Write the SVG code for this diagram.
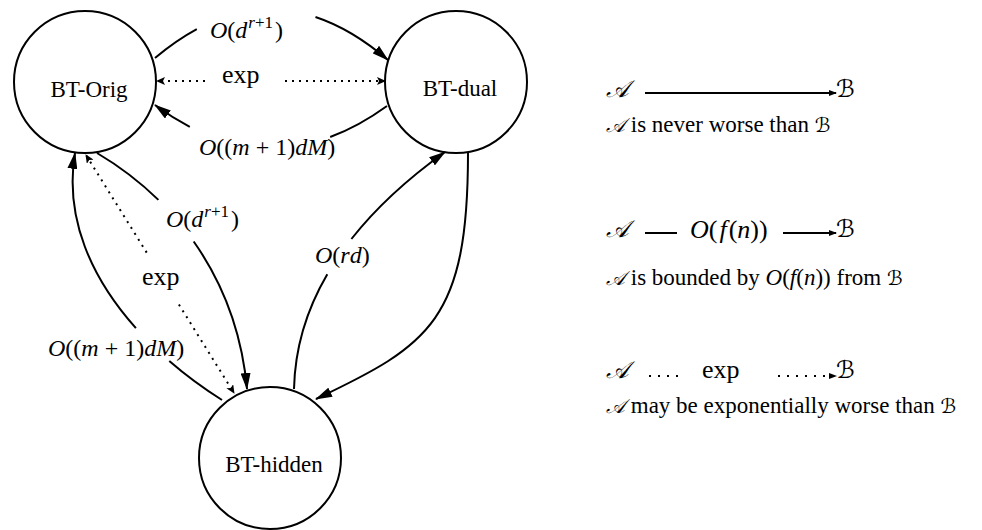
<svg xmlns="http://www.w3.org/2000/svg" width="982" height="530" viewBox="0 0 982 530">
<style>
  .node circle { fill: none; stroke: #000; stroke-width: 2; }
  .name { font-family: "Liberation Serif", "Times New Roman", "DejaVu Serif", serif; font-size: 23px; fill: #000; text-anchor: middle; }
  .edge { fill: none; stroke: #000; stroke-width: 2; }
  .dot { stroke-dasharray: 2 5; }
  .ldot { stroke-dasharray: 2 7; }
  .math { font-family: "Liberation Serif", "Times New Roman", "DejaVu Serif", serif; font-size: 24px; fill: #000; }
  .big { font-size: 26px; }
  .i { font-style: italic; }
  .sup { font-size: 17px; }
  .cal { font-family: "DejaVu Serif", "DejaVu Sans", "Liberation Serif", serif; font-style: italic; font-size: 24px; fill: #000; }
  .cap { font-family: "Liberation Serif", "Times New Roman", "DejaVu Serif", serif; font-size: 23px; fill: #000; }
  .capcal { font-family: "DejaVu Serif", "DejaVu Sans", "Liberation Serif", serif; font-style: italic; font-size: 20px; }
</style>
<defs>
  <marker id="ah" viewBox="0 0 17 10" refX="16" refY="5" markerWidth="17" markerHeight="10" markerUnits="userSpaceOnUse" orient="auto">
    <path d="M0,0 L17,5 L0,10 z" fill="#000"/>
  </marker>
  <marker id="ahs" viewBox="0 0 9 8" refX="8" refY="4" markerWidth="9" markerHeight="8" markerUnits="userSpaceOnUse" orient="auto">
    <path d="M0,0 L9,4 L0,8 L2,4 z" fill="#000"/>
  </marker>
  <marker id="aht" viewBox="0 0 8 6" refX="7" refY="3" markerWidth="8" markerHeight="6" markerUnits="userSpaceOnUse" orient="auto">
    <path d="M0,0 L8,3 L0,6 z" fill="#000"/>
  </marker>
</defs>

<g id="node-bt-orig" class="node">
  <circle cx="85" cy="82" r="71"/>
  <text class="name" x="89" y="97">BT-Orig</text>
</g>
<g id="node-bt-dual" class="node">
  <circle cx="456" cy="82" r="71"/>
  <text class="name" x="460" y="96">BT-dual</text>
</g>
<g id="node-bt-hidden" class="node">
  <circle cx="270" cy="458" r="71"/>
  <text class="name" x="274" y="472">BT-hidden</text>
</g>

<g id="connectors">
  <!-- BT-Orig -> BT-dual, O(d^{r+1}) -->
  <path class="edge" d="M155,58 Q175.9,40.4 196.8,29.1"/>
  <path class="edge" d="M315.5,17 Q351.7,29 388,60" marker-end="url(#ah)"/>
  <text class="math" x="210" y="38"><tspan class="i">O</tspan>(<tspan class="i">d</tspan><tspan class="i sup" dx="1" dy="-10">r</tspan><tspan class="sup">+1</tspan><tspan dx="2" dy="10">)</tspan></text>

  <!-- exp between BT-Orig and BT-dual -->
  <path class="edge dot" d="M205,81 L157,81" marker-end="url(#ahs)"/>
  <path class="edge dot" d="M285,81 L385,81" marker-end="url(#ahs)"/>
  <text class="math big" x="222" y="83">exp</text>

  <!-- BT-dual -> BT-Orig, O((m+1)dM) -->
  <path class="edge" d="M387,106 Q358.6,126.6 330.2,137"/>
  <path class="edge" d="M189.8,126.8 Q172.4,117.75 155,105" marker-end="url(#ah)"/>
  <text class="math" x="199" y="155"><tspan class="i">O</tspan>((<tspan class="i">m</tspan> + 1)<tspan class="i">dM</tspan>)</text>

  <!-- BT-Orig -> BT-hidden, O(d^{r+1}) -->
  <path class="edge" d="M97,153 C119.9,166.5 140.4,182.3 158.4,199.9"/>
  <path class="edge" d="M193.7,241.5 C223.8,284.3 242.05,334.55 247,389" marker-end="url(#ah)"/>
  <text class="math" x="166" y="227"><tspan class="i">O</tspan>(<tspan class="i">d</tspan><tspan class="i sup" dx="1" dy="-10">r</tspan><tspan class="sup">+1</tspan><tspan dx="2" dy="10">)</tspan></text>

  <!-- exp between BT-Orig and BT-hidden -->
  <path class="edge dot" d="M146.7,252.6 L86,155" marker-end="url(#ahs)"/>
  <path class="edge dot" d="M178.9,304.5 L234,393" marker-end="url(#ahs)"/>
  <text class="math big" x="142" y="285">exp</text>

  <!-- BT-hidden -> BT-Orig, O((m+1)dM) -->
  <path class="edge" d="M222,400 C203.7,388.45 185.9,375.4 169.3,361"/>
  <path class="edge" d="M135.9,328.1 C91.7,278.65 64.1,218.3 75,153" marker-end="url(#ah)"/>
  <text class="math" x="48" y="356"><tspan class="i">O</tspan>((<tspan class="i">m</tspan> + 1)<tspan class="i">dM</tspan>)</text>

  <!-- BT-hidden -> BT-dual, O(rd) -->
  <path class="edge" d="M294,389 C294.9,347.85 306.3,310.1 327.3,274.2"/>
  <path class="edge" d="M351.4,239 C375.6,208.3 407,179.2 445,152" marker-end="url(#ah)"/>
  <text class="math" x="315" y="263"><tspan class="i">O</tspan>(<tspan class="i">r</tspan><tspan class="i" dx="1">d</tspan>)</text>

  <!-- BT-dual -> BT-hidden -->
  <path class="edge" d="M468,153 C468,320 430,345 316,399" marker-end="url(#ah)"/>
</g>

<g id="legend">
  <text class="cal" x="606" y="97">𝒜</text>
  <path class="edge" d="M645,93 L836,93" marker-end="url(#aht)"/>
  <text class="cal" x="836" y="97">ℬ</text>
  <text class="cap" x="606" y="132"><tspan class="capcal">𝒜</tspan> is never worse than <tspan class="capcal">ℬ</tspan></text>

  <text class="cal" x="606" y="237">𝒜</text>
  <path class="edge" d="M645,233 L677,233"/>
  <text class="math big" x="690" y="238"><tspan class="i">O</tspan>(<tspan class="i" dx="2">f</tspan><tspan dx="2">(</tspan><tspan class="i">n</tspan>))</text>
  <path class="edge" d="M783,233 L836,233" marker-end="url(#aht)"/>
  <text class="cal" x="836" y="237">ℬ</text>
  <text class="cap" x="606" y="285"><tspan class="capcal">𝒜</tspan> is bounded by <tspan class="i">O</tspan>(<tspan class="i">f</tspan>(<tspan class="i">n</tspan>)) from <tspan class="capcal">ℬ</tspan></text>

  <text class="cal" x="606" y="378">𝒜</text>
  <path class="edge ldot" d="M649,376 L684,376"/>
  <text class="math big" x="702" y="378">exp</text>
  <path class="edge ldot" d="M778,376 L836,376" marker-end="url(#aht)"/>
  <text class="cal" x="836" y="378">ℬ</text>
  <text class="cap" x="606" y="413"><tspan class="capcal">𝒜</tspan> may be exponentially worse than <tspan class="capcal">ℬ</tspan></text>
</g>
</svg>
